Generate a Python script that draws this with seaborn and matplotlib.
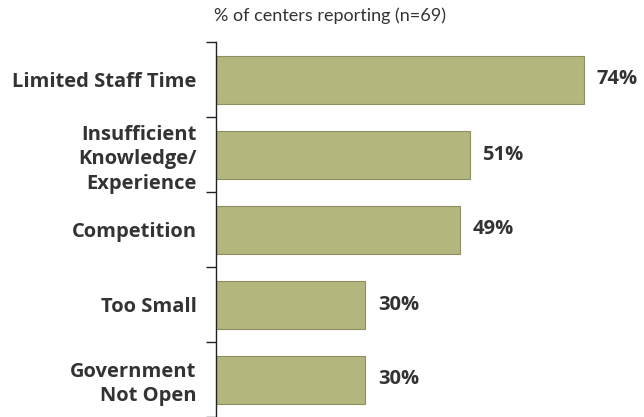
import pandas as pd
import seaborn as sns
from matplotlib import pyplot as plt

categories = ["Limited Staff Time", "Insufficient\nKnowledge/\nExperience",
              "Competition", "Too Small", "Government\nNot Open"]
values = [74, 51, 49, 30, 30]
value_labels = ["74%", "51%", "49%", "30%", "30%"]

sns.set_style("white")
plt.rcParams["font.family"] = ["Open Sans", "DejaVu Sans"]

df = pd.DataFrame({"reason": categories, "pct": values})

fig = plt.figure(figsize=(6.44, 4.17), dpi=100)
ax = fig.add_axes([216 / 644, 0, (644 - 216) / 644, (417 - 42) / 417])
sns.barplot(data=df, y="reason", x="pct", orient="h", color="#b3b77e",
            saturation=1, width=0.64, edgecolor="#8d8f62", linewidth=0.8, ax=ax)

ax.set_xlim(0, 86)
ax.set_ylim(4.5, -0.5)
for s in ["top", "right", "bottom"]:
    ax.spines[s].set_visible(False)
ax.spines["left"].set_color("#222222")
ax.spines["left"].set_linewidth(1.0)
ax.set_xticks([])
ax.set_xlabel("")
ax.set_ylabel("")

# labels at bar centres, tick marks at category boundaries
ax.set_yticks(range(len(categories)))
ax.set_yticklabels(categories, fontweight="bold", fontsize=14.5, color="#333333",
                   linespacing=1.3)
ax.tick_params(axis="y", which="major", left=True, length=0, pad=14)
ax.set_yticks([i - 0.5 for i in range(len(categories) + 1)], minor=True)
ax.tick_params(axis="y", which="minor", left=True, length=7, width=1,
               color="#222222", direction="out")

ax.bar_label(ax.containers[0], labels=value_labels, padding=9, fontsize=14.5,
             fontweight="bold", color="#333333")

fig.text(330 / 644, 1 - 16 / 417, "% of centers reporting (n=69)", ha="center",
         va="center", fontsize=13, color="#333333", family=["Lato", "DejaVu Sans"])

fig.savefig("out.png", dpi=100)
